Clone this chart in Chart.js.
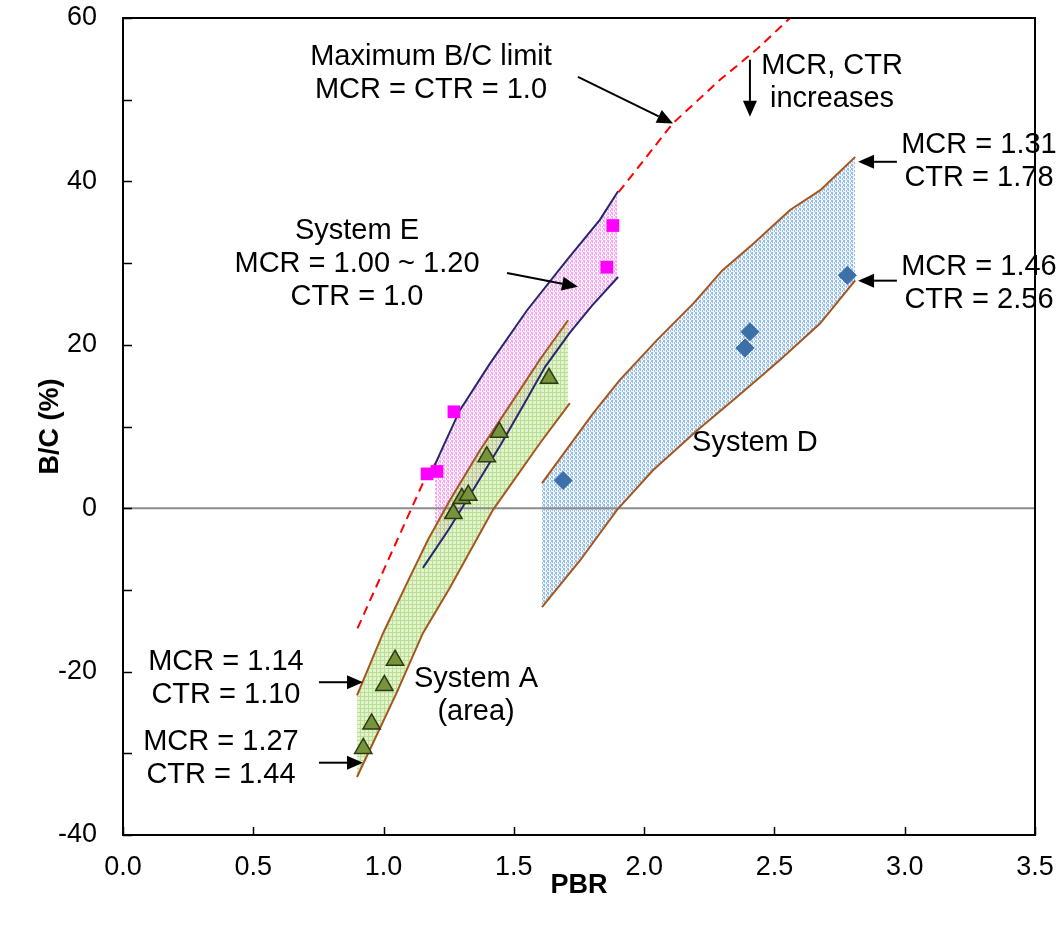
<!DOCTYPE html>
<html>
<head>
<meta charset="utf-8">
<script src="https://cdn.jsdelivr.net/npm/chart.js@4"></script>
<style>
  html, body { margin: 0; padding: 0; background: #fff; }
  #wrap { width: 1064px; height: 926px; }
</style>
</head>
<body>
<div id="wrap"><canvas id="chart"></canvas></div>
<script>
// Maximum B/C limit (MCR = CTR = 1.0)
const pbrLimit = [0.9, 1.0, 1.15, 1.3, 1.5, 1.7, 1.9, 2.11, 2.29, 2.43, 2.56, 2.65];
const bcLimit  = [-14.7, -7.6, 3.0, 10.5, 20.3, 29.0, 38.6, 47.1, 52.4, 56.1, 60.0, 62.5];

// System E band (navy lines)
const pbrEUpper = [1.197, 1.228, 1.293, 1.408, 1.55, 1.704, 1.83, 1.9];
const bcEUpper  = [5.3, 7.5, 12.0, 17.7, 24.2, 30.4, 35.3, 38.8];
const pbrELower = [1.151, 1.25, 1.343, 1.45, 1.535, 1.62, 1.715, 1.8, 1.9];
const bcELower  = [-7.3, -2.6, 2.2, 7.8, 12.5, 17.3, 21.5, 24.8, 28.3];

// System A band (brown lines)
const pbrAUpper = [0.898, 0.998, 1.1, 1.17, 1.255, 1.37, 1.497, 1.6, 1.708];
const bcAUpper  = [-22.9, -15.3, -8.5, -3.9, 1.0, 7.1, 13.2, 18.2, 23.0];
const pbrALower = [0.898, 1.05, 1.151, 1.255, 1.42, 1.6, 1.715];
const bcALower  = [-32.9, -22.6, -15.3, -9.7, -0.2, 7.95, 12.85];

// System D band (brown lines)
const pbrDUpper = [1.608, 1.804, 1.907, 2.05, 2.19, 2.30, 2.42, 2.56, 2.675, 2.81];
const bcDUpper  = [3.06, 11.6, 15.7, 20.6, 25.1, 29.1, 32.4, 36.5, 38.9, 43.0];
const pbrDLower = [1.608, 1.754, 1.896, 2.034, 2.203, 2.356, 2.52, 2.675, 2.81];
const bcDLower  = [-12.1, -6.4, -0.2, 4.65, 9.5, 13.6, 18.1, 22.6, 27.9];

// measured points
const pbrE = [1.167, 1.205, 1.270, 1.857, 1.880];
const bcE  = [4.2, 4.5, 11.8, 29.5, 34.6];
const pbrA = [0.922, 0.954, 1.003, 1.044, 1.268, 1.30, 1.325, 1.396, 1.444, 1.635];
const bcA  = [-29.4, -26.4, -21.7, -18.6, -0.65, 1.2, 1.6, 6.3, 9.3, 15.9];
const pbrD = [1.689, 2.387, 2.406, 2.78];
const bcD  = [3.4, 19.6, 21.6, 28.5];

// axis ticks
const xTicks = [0, 0.5, 1.0, 1.5, 2.0, 2.5, 3.0, 3.5];
const yTicks = [-40, -30, -20, -10, 0, 10, 20, 30, 40, 50, 60];

// text notes (data coords of block centre) and arrows
const notes = [
	{ x: 1.182, y: 53.2, lines: ['Maximum B/C limit', 'MCR = CTR = 1.0'] },
	{ x: 2.721, y: 52.1, lines: ['MCR, CTR', 'increases'] },
	{ x: 3.285, y: 42.45, lines: ['MCR = 1.31', 'CTR = 1.78'] },
	{ x: 3.285, y: 27.45, lines: ['MCR = 1.46', 'CTR = 2.56'] },
	{ x: 0.898, y: 29.84, lines: ['System E', 'MCR = 1.00 ~ 1.20', 'CTR = 1.0'] },
	{ x: 2.425, y: 8.0, lines: ['System D'] },
	{ x: 1.355, y: -22.96, lines: ['System A', '(area)'] },
	{ x: 0.395, y: -20.9, lines: ['MCR = 1.14', 'CTR = 1.10'] },
	{ x: 0.376, y: -30.6, lines: ['MCR = 1.27', 'CTR = 1.44'] }
];
const arrows = [
	{ x0: 1.746, y0: 52.8, x1: 2.111, y1: 47.1 },
	{ x0: 2.406, y0: 54.9, x1: 2.406, y1: 47.9 },
	{ x0: 2.970, y0: 42.4, x1: 2.821, y1: 42.4 },
	{ x0: 2.970, y0: 27.85, x1: 2.821, y1: 27.85 },
	{ x0: 1.474, y0: 28.8, x1: 1.746, y1: 27.1 },
	{ x0: 0.752, y0: -21.3, x1: 0.921, y1: -21.3 },
	{ x0: 0.752, y0: -31.15, x1: 0.921, y1: -31.15 }
];

const FONT = "'Liberation Sans', Arial, sans-serif";

function pts(xs, ys) {
	return xs.map((x, i) => ({ x: x, y: ys[i] }));
}

// small textured fills like the excel pattern fills
function makePattern(colorAt) {
	const c = document.createElement('canvas');
	c.width = 4; c.height = 4;
	const g = c.getContext('2d');
	for (let i = 0; i < 4; i++) {
		for (let j = 0; j < 4; j++) {
			g.fillStyle = colorAt(i, j);
			g.fillRect(i, j, 1, 1);
		}
	}
	return g.createPattern(c, 'repeat');
}
const isDot = (i, j) => (i * 3 + j) % 8 < 3;
const pinkFill = makePattern((i, j) => (isDot(i, j) ? '#F7A6F1' : '#FFF2FE'));
const greenFill = makePattern((i, j) => ((i === 0 || j === 0) ? 'rgba(150,205,95,0.65)' : 'rgba(205,236,168,0.6)'));
const blueFill = makePattern((i, j) => (isDot(i, j) ? '#96BEE6' : '#EEF5FC'));

function bandFill(xs, ys, target, pattern, order) {
	return { data: pts(xs, ys), showLine: true, borderWidth: 0, pointRadius: 0, fill: { target: target }, backgroundColor: pattern, order: order };
}
function plainLine(xs, ys, color, order, extra) {
	return Object.assign({ data: pts(xs, ys), showLine: true, borderColor: color, borderWidth: 2, pointRadius: 0, fill: false, order: order }, extra || {});
}

const NAVY = '#262673';
const BROWN = '#A5561E';

// dataset indices used as fill targets: 6 = E lower, 8 = A lower, 10 = D lower
const datasets = [
	plainLine(pbrLimit, bcLimit, '#FF0000', 100, { borderDash: [9, 6] }),  // 0
	bandFill(pbrEUpper, bcEUpper, 6, pinkFill, 90),                        // 1
	bandFill(pbrAUpper, bcAUpper, 8, greenFill, 80),                       // 2
	bandFill(pbrDUpper, bcDUpper, 10, blueFill, 70),                       // 3
	plainLine([0, 3.5], [0, 0], '#8C8C8C', 60),                            // 4 zero line
	plainLine(pbrEUpper, bcEUpper, NAVY, 40),                              // 5
	plainLine(pbrELower, bcELower, NAVY, 40),                              // 6
	plainLine(pbrAUpper, bcAUpper, BROWN, 30),                             // 7
	plainLine(pbrALower, bcALower, BROWN, 30),                             // 8
	plainLine(pbrDUpper, bcDUpper, BROWN, 30),                             // 9
	plainLine(pbrDLower, bcDLower, BROWN, 30),                             // 10
	{ data: pts(pbrE, bcE), pointStyle: 'rect', pointRadius: 9, backgroundColor: '#FF00FF', borderColor: '#FF00FF', borderWidth: 0, order: 3 },
	{ data: pts(pbrA, bcA), pointStyle: 'triangle', pointRadius: 10, backgroundColor: '#77933C', borderColor: '#2B3A12', borderWidth: 1.5, order: 2 },
	{ data: pts(pbrD, bcD), pointStyle: 'rectRot', pointRadius: 9, backgroundColor: '#3D6FA8', borderColor: '#3D6FA8', borderWidth: 1, order: 1 }
];

// texts, arrows, frame and inward tick marks
const decorPlugin = {
	id: 'decor',
	afterDatasetsDraw(chart) {
		const ctx = chart.ctx;
		const xs = chart.scales.x, ys = chart.scales.y;
		ctx.save();
		ctx.fillStyle = '#000';
		ctx.strokeStyle = '#000';
		ctx.font = '29px ' + FONT;
		ctx.textAlign = 'center';
		ctx.textBaseline = 'middle';
		const lh = 33;
		notes.forEach(n => {
			const cx = xs.getPixelForValue(n.x);
			const cy = ys.getPixelForValue(n.y);
			const top = cy - (n.lines.length - 1) * lh / 2;
			n.lines.forEach((t, k) => ctx.fillText(t, cx, top + k * lh));
		});
		ctx.lineWidth = 2;
		arrows.forEach(a => {
			const x0 = xs.getPixelForValue(a.x0), y0 = ys.getPixelForValue(a.y0);
			const x1 = xs.getPixelForValue(a.x1), y1 = ys.getPixelForValue(a.y1);
			const ang = Math.atan2(y1 - y0, x1 - x0);
			const len = 16, hw = 7;
			const bx = x1 - Math.cos(ang) * len, by = y1 - Math.sin(ang) * len;
			ctx.beginPath();
			ctx.moveTo(x0, y0);
			ctx.lineTo(bx, by);
			ctx.stroke();
			ctx.beginPath();
			ctx.moveTo(x1, y1);
			ctx.lineTo(bx - Math.sin(ang) * hw, by + Math.cos(ang) * hw);
			ctx.lineTo(bx + Math.sin(ang) * hw, by - Math.cos(ang) * hw);
			ctx.closePath();
			ctx.fill();
		});
		ctx.restore();
	},
	afterDraw(chart) {
		const ctx = chart.ctx;
		const a = chart.chartArea;
		const xs = chart.scales.x, ys = chart.scales.y;
		ctx.save();
		ctx.strokeStyle = '#000';
		ctx.lineWidth = 2;
		ctx.strokeRect(a.left, a.top, a.right - a.left, a.bottom - a.top);
		ctx.beginPath();
		yTicks.forEach(v => {
			const p = Math.round(ys.getPixelForValue(v)) + 0.5;
			ctx.moveTo(a.left, p);
			ctx.lineTo(a.left + 9, p);
		});
		xTicks.forEach(v => {
			const p = Math.round(xs.getPixelForValue(v)) + 0.5;
			ctx.moveTo(p, a.bottom);
			ctx.lineTo(p, a.bottom - 8);
		});
		ctx.lineWidth = 1.5;
		ctx.stroke();
		ctx.restore();
	}
};

new Chart(document.getElementById('chart'), {
	type: 'scatter',
	data: { datasets: datasets },
	options: {
		responsive: true,
		maintainAspectRatio: false,
		animation: false,
		layout: { padding: { top: 18, right: 29, left: 0, bottom: 0 } },
		plugins: {
			legend: { display: false },
			tooltip: { enabled: false },
			filler: { drawTime: 'beforeDatasetDraw' }
		},
		scales: {
			x: {
				type: 'linear',
				min: 0,
				max: 3.5,
				afterBuildTicks: (scale) => { scale.ticks = xTicks.map(v => ({ value: v })); },
				afterFit: (scale) => { scale.height = 91; scale.paddingLeft = 0; scale.paddingRight = 0; },
				grid: { display: false, drawTicks: false },
				border: { display: false },
				ticks: {
					padding: 16,
					color: '#000',
					font: { family: FONT, size: 27 },
					callback: (v) => Number(v).toFixed(1)
				},
				title: {
					display: true,
					text: 'PBR',
					color: '#000',
					font: { family: FONT, size: 27, weight: 'bold' },
					padding: 24
				}
			},
			y: {
				type: 'linear',
				min: -40,
				max: 60,
				afterBuildTicks: (scale) => { scale.ticks = yTicks.map(v => ({ value: v })); },
				afterFit: (scale) => { scale.width = 123; scale.paddingTop = 0; scale.paddingBottom = 0; },
				grid: { display: false, drawTicks: false },
				border: { display: false },
				ticks: {
					padding: 26,
					autoSkip: false,
					color: '#000',
					font: { family: FONT, size: 27 },
					callback: (v) => (v % 20 === 0 ? String(v) : '')
				},
				title: {
					display: true,
					text: 'B/C (%)',
					color: '#000',
					font: { family: FONT, size: 27, weight: 'bold' },
					padding: 34
				}
			}
		}
	},
	plugins: [decorPlugin]
});
</script>
</body>
</html>
